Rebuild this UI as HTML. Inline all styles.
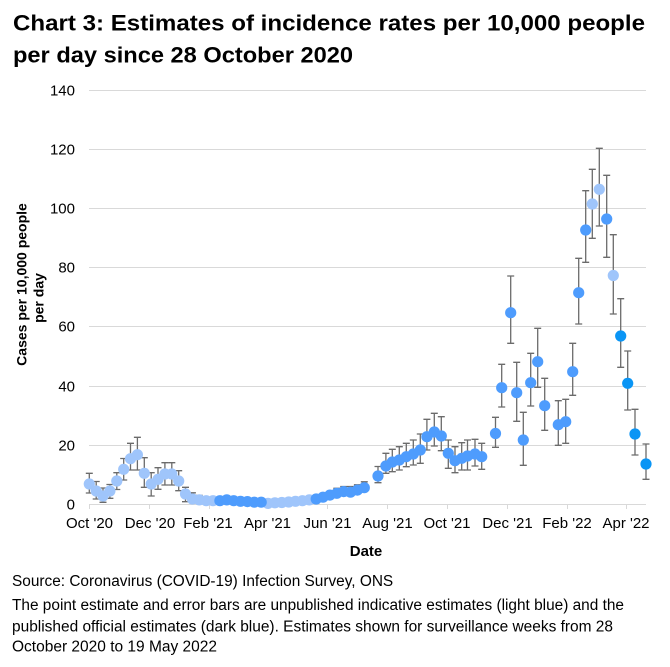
<!DOCTYPE html>
<html>
<head>
<meta charset="utf-8">
<style>
html,body{margin:0;padding:0;background:#fff;}
svg{display:block;}
text{font-family:"Liberation Sans",Arial,sans-serif;fill:#000;}
</style>
</head>
<body>
<svg width="670" height="667" viewBox="0 0 670 667" xmlns="http://www.w3.org/2000/svg">
<rect width="670" height="667" fill="#fff"/>
<!-- Title -->
<text x="13" y="30.5" font-size="22.5" font-weight="bold" textLength="632" lengthAdjust="spacingAndGlyphs">Chart 3: Estimates of incidence rates per 10,000 people</text>
<text x="13" y="62.5" font-size="22.5" font-weight="bold" textLength="340" lengthAdjust="spacingAndGlyphs">per day since 28 October 2020</text>

<!-- Gridlines -->
<g stroke="#d9d9d9" stroke-width="1">
<line x1="89" y1="90.5" x2="646" y2="90.5"/>
<line x1="89" y1="149.5" x2="646" y2="149.5"/>
<line x1="89" y1="208.5" x2="646" y2="208.5"/>
<line x1="89" y1="267.5" x2="646" y2="267.5"/>
<line x1="89" y1="326.5" x2="646" y2="326.5"/>
<line x1="89" y1="386.5" x2="646" y2="386.5"/>
<line x1="89" y1="445.5" x2="646" y2="445.5"/>
<line x1="89" y1="504.5" x2="646" y2="504.5"/>
<line x1="89.5" y1="504" x2="89.5" y2="509"/>
<line x1="149.5" y1="504" x2="149.5" y2="509"/>
<line x1="209.5" y1="504" x2="209.5" y2="509"/>
<line x1="268.5" y1="504" x2="268.5" y2="509"/>
<line x1="327.5" y1="504" x2="327.5" y2="509"/>
<line x1="387.5" y1="504" x2="387.5" y2="509"/>
<line x1="447.5" y1="504" x2="447.5" y2="509"/>
<line x1="507.5" y1="504" x2="507.5" y2="509"/>
<line x1="567.5" y1="504" x2="567.5" y2="509"/>
<line x1="626.5" y1="504" x2="626.5" y2="509"/>
</g>

<!-- Y tick labels -->
<g font-size="15" text-anchor="end">
<text x="75" y="95.5">140</text>
<text x="75" y="154.5">120</text>
<text x="75" y="213.5">100</text>
<text x="75" y="272.5">80</text>
<text x="75" y="331.5">60</text>
<text x="75" y="391.5">40</text>
<text x="75" y="450.5">20</text>
<text x="75" y="509.5">0</text>
</g>

<!-- X tick labels -->
<g font-size="15" text-anchor="middle">
<text x="89.5" y="528">Oct '20</text>
<text x="150" y="528">Dec '20</text>
<text x="208" y="528">Feb '21</text>
<text x="267.5" y="528">Apr '21</text>
<text x="327.5" y="528">Jun '21</text>
<text x="387.5" y="528">Aug '21</text>
<text x="447" y="528">Oct '21</text>
<text x="507.5" y="528">Dec '21</text>
<text x="567" y="528">Feb '22</text>
<text x="626" y="528">Apr '22</text>
</g>

<!-- Axis titles -->
<text x="366" y="556" font-size="15" font-weight="bold" text-anchor="middle">Date</text>
<text transform="translate(26.5,284.5) rotate(-90)" font-size="14" font-weight="bold" text-anchor="middle">Cases per 10,000 people</text>
<text transform="translate(43.5,298) rotate(-90)" font-size="14" font-weight="bold" text-anchor="middle">per day</text>

<!-- Error bars -->
<g stroke="#6b6b6b" stroke-width="1.3" fill="none">
<path d="M89.3 473.3V493M85.8 473.3h7M85.8 493h7"/>
<path d="M96.2 481.5V499M92.7 481.5h7M92.7 499h7"/>
<path d="M103 488V502.3M99.5 488h7M99.5 502.3h7"/>
<path d="M109.9 484.5V498.3M106.4 484.5h7M106.4 498.3h7"/>
<path d="M116.8 472.7V489.5M113.3 472.7h7M113.3 489.5h7"/>
<path d="M123.7 458.5V480M120.2 458.5h7M120.2 480h7"/>
<path d="M130.5 443.3V470M127 443.3h7M127 470h7"/>
<path d="M137.4 437.3V470M133.9 437.3h7M133.9 470h7"/>
<path d="M144.3 457.7V487.3M140.8 457.7h7M140.8 487.3h7"/>
<path d="M151.2 472.7V496M147.7 472.7h7M147.7 496h7"/>
<path d="M158 467.7V489.3M154.5 467.7h7M154.5 489.3h7"/>
<path d="M164.9 462.7V485M161.4 462.7h7M161.4 485h7"/>
<path d="M171.8 462.7V485M168.3 462.7h7M168.3 485h7"/>
<path d="M178.7 470.7V490.7M175.2 470.7h7M175.2 490.7h7"/>
<path d="M185.5 487.3V501.7M182 487.3h7M182 501.7h7"/>
<path d="M192.4 492.8V502.5M188.9 492.8h7M188.9 502.5h7"/>
<path d="M199.3 495.4V502.8M195.8 495.4h7M195.8 502.8h7"/>
<path d="M206.2 497.2V503.1M202.7 497.2h7M202.7 503.1h7"/>
<path d="M213 497.8V502.8M209.5 497.8h7M209.5 502.8h7"/>
<path d="M219.9 498.4V502.5M216.4 498.4h7M216.4 502.5h7"/>
<path d="M226.8 497.8V501.6M223.3 497.8h7M223.3 501.6h7"/>
<path d="M233.7 499V502.2M230.2 499h7M230.2 502.2h7"/>
<path d="M240.5 499.9V502.5M237 499.9h7"/>
<path d="M247.4 500.2V502.8M243.9 500.2h7"/>
<path d="M316.2 496.6V500.7M312.7 496.6h7"/>
<path d="M323 494.5V499.6M319.5 494.5h7"/>
<path d="M329.9 491.9V497.8M326.4 491.9h7"/>
<path d="M336.8 488.3V496.6M333.3 488.3h7"/>
<path d="M343.7 486.5V495.4M340.2 486.5h7"/>
<path d="M350.5 486.5V495.7M347 486.5h7"/>
<path d="M357.4 484.8V494.2M353.9 484.8h7"/>
<path d="M364.3 481.8V492.2M360.8 481.8h7"/>
<path d="M378 466.5V482.7M374.5 466.5h7M374.5 482.7h7"/>
<path d="M385.9 453.3V473.3M382.4 453.3h7M382.4 473.3h7"/>
<path d="M392.3 449.3V471.7M388.8 449.3h7M388.8 471.7h7"/>
<path d="M399.3 446.7V470M395.8 446.7h7M395.8 470h7"/>
<path d="M406.3 443.3V466.7M402.8 443.3h7M402.8 466.7h7"/>
<path d="M413.3 440V465M409.8 440h7M409.8 465h7"/>
<path d="M420.3 434V463.3M416.8 434h7M416.8 463.3h7"/>
<path d="M426.9 419.3V450M423.4 419.3h7M423.4 450h7"/>
<path d="M434.3 413.3V446M430.8 413.3h7M430.8 446h7"/>
<path d="M441.3 416.7V450.7M437.8 416.7h7M437.8 450.7h7"/>
<path d="M448.3 440V468.3M444.8 440h7M444.8 468.3h7"/>
<path d="M455 446.7V472.7M451.5 446.7h7M451.5 472.7h7"/>
<path d="M461.7 442.7V470M458.2 442.7h7M458.2 470h7"/>
<path d="M467.5 440V470M464 440h7M464 470h7"/>
<path d="M475 439.3V466M471.5 439.3h7M471.5 466h7"/>
<path d="M481.7 443.3V469.3M478.2 443.3h7M478.2 469.3h7"/>
<path d="M495.5 417.3V447.3M492 417.3h7M492 447.3h7"/>
<path d="M501.7 364.3V407M498.2 364.3h7M498.2 407h7"/>
<path d="M510.7 276V343.3M507.2 276h7M507.2 343.3h7"/>
<path d="M516.7 362.3V421.3M513.2 362.3h7M513.2 421.3h7"/>
<path d="M523.3 412.3V465.3M519.8 412.3h7M519.8 465.3h7"/>
<path d="M530.7 353.3V406M527.2 353.3h7M527.2 406h7"/>
<path d="M537.7 328.3V387.3M534.2 328.3h7M534.2 387.3h7"/>
<path d="M544.7 378.3V430.3M541.2 378.3h7M541.2 430.3h7"/>
<path d="M558.3 400.7V445.3M554.8 400.7h7M554.8 445.3h7"/>
<path d="M565.7 399.3V443.3M562.2 399.3h7M562.2 443.3h7"/>
<path d="M572.7 343.3V395.3M569.2 343.3h7M569.2 395.3h7"/>
<path d="M578.7 258.3V324M575.2 258.3h7M575.2 324h7"/>
<path d="M585.7 190.7V262.3M582.2 190.7h7M582.2 262.3h7"/>
<path d="M592.3 169.3V238.3M588.8 169.3h7M588.8 238.3h7"/>
<path d="M599.3 148.3V226M595.8 148.3h7M595.8 226h7"/>
<path d="M606.7 175.3V257.3M603.2 175.3h7M603.2 257.3h7"/>
<path d="M613.3 234.7V314M609.8 234.7h7M609.8 314h7"/>
<path d="M620.7 298.7V367.3M617.2 298.7h7M617.2 367.3h7"/>
<path d="M627.7 351V410M624.2 351h7M624.2 410h7"/>
<path d="M635 409.3V455M631.5 409.3h7M631.5 455h7"/>
<path d="M646 444V479.3M642.5 444h7M642.5 479.3h7"/>
</g>

<!-- Markers: light blue -->
<g fill="#9fc5fb">
<circle cx="89.3" cy="484" r="5.6"/>
<circle cx="96.2" cy="491" r="5.6"/>
<circle cx="103" cy="496" r="5.6"/>
<circle cx="109.9" cy="491" r="5.6"/>
<circle cx="116.8" cy="481" r="5.6"/>
<circle cx="123.7" cy="469.3" r="5.6"/>
<circle cx="130.5" cy="458.7" r="5.6"/>
<circle cx="137.4" cy="454.7" r="5.6"/>
<circle cx="144.3" cy="473.3" r="5.6"/>
<circle cx="151.2" cy="484" r="5.6"/>
<circle cx="158" cy="479.3" r="5.6"/>
<circle cx="164.9" cy="474" r="5.6"/>
<circle cx="171.8" cy="474" r="5.6"/>
<circle cx="178.7" cy="481" r="5.6"/>
<circle cx="185.5" cy="494" r="5.6"/>
<circle cx="192.4" cy="499" r="5.6"/>
<circle cx="199.3" cy="499.9" r="5.6"/>
<circle cx="206.2" cy="500.7" r="5.6"/>
<circle cx="213" cy="500.7" r="5.6"/>
<circle cx="268" cy="503.4" r="5.6"/>
<circle cx="274.9" cy="502.8" r="5.6"/>
<circle cx="281.8" cy="502.5" r="5.6"/>
<circle cx="288.7" cy="502" r="5.6"/>
<circle cx="295.5" cy="501.3" r="5.6"/>
<circle cx="302.4" cy="500.7" r="5.6"/>
<circle cx="309.3" cy="499.9" r="5.6"/>
<circle cx="592.3" cy="204" r="5.6"/>
<circle cx="599.3" cy="189.3" r="5.6"/>
<circle cx="613.3" cy="275.5" r="5.6"/>
</g>
<!-- Markers: mid blue -->
<g fill="#4e9cfd">
<circle cx="219.9" cy="500.7" r="5.6"/>
<circle cx="226.8" cy="499.9" r="5.6"/>
<circle cx="233.7" cy="500.7" r="5.6"/>
<circle cx="240.5" cy="501.3" r="5.6"/>
<circle cx="247.4" cy="501.6" r="5.6"/>
<circle cx="254.3" cy="502.2" r="5.6"/>
<circle cx="261.2" cy="502.2" r="5.6"/>
<circle cx="316.2" cy="499" r="5.6"/>
<circle cx="323" cy="497.2" r="5.6"/>
<circle cx="329.9" cy="495.1" r="5.6"/>
<circle cx="336.8" cy="493.3" r="5.6"/>
<circle cx="343.7" cy="491.6" r="5.6"/>
<circle cx="350.5" cy="492.2" r="5.6"/>
<circle cx="357.4" cy="490.1" r="5.6"/>
<circle cx="364.3" cy="487.7" r="5.6"/>
<circle cx="378" cy="476" r="5.6"/>
<circle cx="385.9" cy="466" r="5.6"/>
<circle cx="392.3" cy="462" r="5.6"/>
<circle cx="399.3" cy="460" r="5.6"/>
<circle cx="406.3" cy="456.7" r="5.6"/>
<circle cx="413.3" cy="454" r="5.6"/>
<circle cx="420.3" cy="450" r="5.6"/>
<circle cx="426.9" cy="436.7" r="5.6"/>
<circle cx="434.3" cy="432" r="5.6"/>
<circle cx="441.3" cy="436" r="5.6"/>
<circle cx="448.3" cy="453.3" r="5.6"/>
<circle cx="455" cy="460.7" r="5.6"/>
<circle cx="461.7" cy="458.3" r="5.6"/>
<circle cx="467.5" cy="456" r="5.6"/>
<circle cx="475" cy="454" r="5.6"/>
<circle cx="481.7" cy="456.7" r="5.6"/>
<circle cx="495.5" cy="433.5" r="5.6"/>
<circle cx="501.7" cy="387.7" r="5.6"/>
<circle cx="510.7" cy="312.7" r="5.6"/>
<circle cx="516.7" cy="392.7" r="5.6"/>
<circle cx="523.3" cy="440" r="5.6"/>
<circle cx="530.7" cy="382.7" r="5.6"/>
<circle cx="537.7" cy="361.7" r="5.6"/>
<circle cx="544.7" cy="405.7" r="5.6"/>
<circle cx="558.3" cy="424.7" r="5.6"/>
<circle cx="565.7" cy="421.7" r="5.6"/>
<circle cx="572.7" cy="371.7" r="5.6"/>
<circle cx="578.7" cy="292.7" r="5.6"/>
<circle cx="585.7" cy="230" r="5.6"/>
<circle cx="606.7" cy="219" r="5.6"/>
</g>
<!-- Markers: bright blue -->
<g fill="#0a95f5">
<circle cx="620.7" cy="336" r="5.6"/>
<circle cx="627.7" cy="383.3" r="5.6"/>
<circle cx="635" cy="434" r="5.6"/>
<circle cx="646" cy="464" r="5.6"/>
</g>

<!-- Footer -->
<g font-size="15.4">
<text x="12" y="586">Source: Coronavirus (COVID-19) Infection Survey, ONS</text>
<text x="12" y="610" textLength="612" lengthAdjust="spacingAndGlyphs">The point estimate and error bars are unpublished indicative estimates (light blue) and the</text>
<text x="12" y="631.5" textLength="601" lengthAdjust="spacingAndGlyphs">published official estimates (dark blue). Estimates shown for surveillance weeks from 28</text>
<text x="12" y="651.5" textLength="205" lengthAdjust="spacingAndGlyphs">October 2020 to 19 May 2022</text>
</g>
</svg>
</body>
</html>
